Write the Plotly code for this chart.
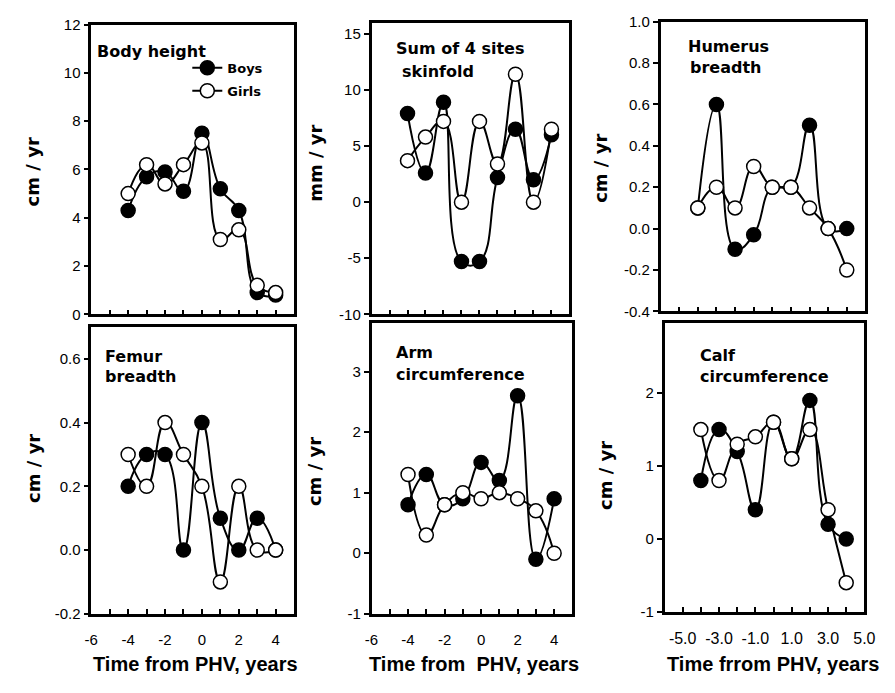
import plotly.graph_objects as go

# ---------------- data ----------------
years = [-4, -3, -2, -1, 0, 1, 2, 3, 4]

height_boys = [4.3, 5.7, 5.9, 5.1, 7.5, 5.2, 4.3, 0.9, 0.8]
height_girls = [5.0, 6.2, 5.4, 6.2, 7.1, 3.1, 3.5, 1.2, 0.9]

skinfold_boys = [7.9, 2.6, 8.9, -5.3, -5.3, 2.2, 6.5, 2.0, 6.0]
skinfold_girls = [3.7, 5.8, 7.2, 0.0, 7.2, 3.4, 11.4, 0.0, 6.5]

humerus_boys = [0.1, 0.6, -0.1, -0.03, 0.2, 0.2, 0.5, 0.0, 0.0]
humerus_girls = [0.1, 0.2, 0.1, 0.3, 0.2, 0.2, 0.1, 0.0, -0.2]

femur_boys = [0.2, 0.3, 0.3, 0.0, 0.4, 0.1, 0.0, 0.1, 0.0]
femur_girls = [0.3, 0.2, 0.4, 0.3, 0.2, -0.1, 0.2, 0.0, 0.0]

arm_boys = [0.8, 1.3, 0.8, 0.9, 1.5, 1.2, 2.6, -0.1, 0.9]
arm_girls = [1.3, 0.3, 0.8, 1.0, 0.9, 1.0, 0.9, 0.7, 0.0]

calf_boys = [0.8, 1.5, 1.2, 0.4, 1.6, 1.1, 1.9, 0.2, 0.0]
calf_girls = [1.5, 0.8, 1.3, 1.4, 1.6, 1.1, 1.5, 0.4, -0.6]

x_tick_vals = [-6, -5, -4, -3, -2, -1, 0, 1, 2, 3, 4, 5]
x_tick_text_int = ["-6", "", "-4", "", "-2", "", "0", "", "2", "", "4", ""]
x_tick_text_dec = ["", "-5.0", "", "-3.0", "", "-1.0", "", "1.0", "", "3.0", "", "5.0"]

y_ticks_height = [0, 2, 4, 6, 8, 10, 12]
y_ticks_skinfold = [-10, -5, 0, 5, 10, 15]
y_ticks_humerus = [-0.4, -0.2, 0.0, 0.2, 0.4, 0.6, 0.8, 1.0]
y_ticks_femur = [-0.2, 0.0, 0.2, 0.4, 0.6]
y_ticks_arm = [-1, 0, 1, 2, 3]
y_ticks_calf = [-1, 0, 1, 2]

panel_titles = [["Body height"], ["Sum of 4 sites", "skinfold"], ["Humerus", "breadth"],
                ["Femur", "breadth"], ["Arm", "circumference"], ["Calf", "circumference"]]
y_titles = ["cm / yr", "mm / yr", "cm / yr", "cm / yr", "cm / yr", "cm / yr"]
x_titles = ["Time from PHV, years", "Time from\u00a0 PHV, years", "Time frrom PHV, years"]

# ---------------- layout geometry (pixels) ----------------
W, H = 895, 693
frames = [  # left, right, top, bottom
    (86, 293, 16, 313),
    (372, 574, 14, 313),
    (667, 876, 13, 310),
    (86, 293, 326, 620),
    (372, 577, 322, 620),
    (671, 875, 322, 618),
]
panels = [
    dict(b=height_boys, g=height_girls, yr=[0, 12], yt=y_ticks_height, dec=False),
    dict(b=skinfold_boys, g=skinfold_girls, yr=[-10, 16], yt=y_ticks_skinfold, dec=False),
    dict(b=humerus_boys, g=humerus_girls, yr=[-0.4, 1.0], yt=y_ticks_humerus, dec=True),
    dict(b=femur_boys, g=femur_girls, yr=[-0.2, 0.7], yt=y_ticks_femur, dec=True),
    dict(b=arm_boys, g=arm_girls, yr=[-1, 3.8], yt=y_ticks_arm, dec=False),
    dict(b=calf_boys, g=calf_girls, yr=[-1, 2.96], yt=y_ticks_calf, dec=False),
]
title_pos = [  # (x left, y centre) of each title line
    [(90, 44)],
    [(395, 41), (401, 64)],
    [(693, 38), (695, 60)],
    [(98, 356), (98, 377)],
    [(395, 352), (395, 375)],
    [(705, 355), (705, 377)],
]
ytitle_pos = [(26, 167), (314, 158), (605, 163), (27, 471), (314, 474), (611, 478)]
xtitle_pos = [(192, 671), (477, 671), (782, 671)]

TICK_FONT = dict(family="Liberation Sans, Arial", size=15, color="black")
BOLD_FAMILY = "DejaVu Sans"
XTITLE_FONT = dict(family="Liberation Sans, Arial", size=20, color="black")

fig = go.Figure()
layout = dict(
    width=W, height=H, margin=dict(l=0, r=0, t=0, b=0),
    paper_bgcolor="white", plot_bgcolor="white",
    showlegend=True,
    legend=dict(x=184 / W, y=1 - 45 / H, xanchor="left", yanchor="top",
                bgcolor="rgba(0,0,0,0)", font=dict(family=BOLD_FAMILY, size=13, color="black"),
                tracegroupgap=3, itemwidth=30),
)
annotations = []

for i, (p, fr) in enumerate(zip(panels, frames)):
    n = i + 1
    xa = "x" if n == 1 else f"x{n}"
    ya = "y" if n == 1 else f"y{n}"
    L, R, T, B = fr
    fig.add_trace(go.Scatter(
        x=years, y=p["b"], xaxis=xa, yaxis=ya, mode="lines+markers",
        name="<b>Boys</b>", showlegend=(n == 1), legendgroup="b",
        line=dict(color="black", width=2, shape="spline", smoothing=1.3),
        marker=dict(size=14, color="black", line=dict(color="black", width=1.5)),
    ))
    fig.add_trace(go.Scatter(
        x=years, y=p["g"], xaxis=xa, yaxis=ya, mode="lines+markers",
        name="<b>Girls</b>", showlegend=(n == 1), legendgroup="g",
        line=dict(color="black", width=2, shape="spline", smoothing=1.3),
        marker=dict(size=14, color="white", line=dict(color="black", width=1.5)),
    ))
    bottom_row = n >= 4
    if n == 6:
        ttext = x_tick_text_dec
        tfont = dict(family="Liberation Sans, Arial", size=16, color="black")
    else:
        ttext = x_tick_text_int
        tfont = TICK_FONT
    layout[f"xaxis{'' if n == 1 else n}"] = dict(
        domain=[L / W, R / W], anchor=ya, range=[-6, 5],
        tickmode="array", tickvals=x_tick_vals, ticktext=ttext,
        showticklabels=bottom_row, ticks="inside", ticklen=5, tickwidth=1.5,
        tickcolor="black", tickfont=tfont, ticklabelstandoff=10 if bottom_row else 0,
        showline=True, linecolor="black", linewidth=2.5, mirror=True,
        showgrid=False, zeroline=False,
    )
    ytext = [f"{v:.1f}" if p["dec"] else str(int(round(v))) for v in p["yt"]]
    layout[f"yaxis{'' if n == 1 else n}"] = dict(
        domain=[1 - B / H, 1 - T / H], anchor=xa, range=p["yr"],
        tickmode="array", tickvals=p["yt"], ticktext=ytext,
        ticks="outside", ticklen=5, tickwidth=1.5, tickcolor="black", tickfont=TICK_FONT,
        showline=True, linecolor="black", linewidth=2.5, mirror=True,
        showgrid=False, zeroline=False,
    )
    # right-hand inner ticks
    layout[f"yaxis{n + 6}"] = dict(
        overlaying=ya, side="right", anchor=xa, range=p["yr"],
        tickmode="array", tickvals=p["yt"], showticklabels=False,
        ticks="inside", ticklen=5, tickwidth=1.5, tickcolor="black",
        showline=False, showgrid=False, zeroline=False,
    )
    for line, (tx, ty) in zip(panel_titles[i], title_pos[i]):
        annotations.append(dict(
            text=f"<b>{line}</b>", x=tx / W, y=1 - ty / H, xref="paper", yref="paper",
            xanchor="left", yanchor="middle", showarrow=False,
            font=dict(family=BOLD_FAMILY, size=16, color="black"),
        ))
    yx, yy = ytitle_pos[i]
    annotations.append(dict(
        text=f"<b>{y_titles[i]}</b>", x=yx / W, y=1 - yy / H, xref="paper", yref="paper",
        xanchor="center", yanchor="middle", showarrow=False, textangle=-90,
        font=dict(family=BOLD_FAMILY, size=18, color="black"),
    ))

for t, (tx, ty) in zip(x_titles, xtitle_pos):
    annotations.append(dict(
        text=f"<b>{t}</b>", x=tx / W, y=1 - ty / H, xref="paper", yref="paper",
        xanchor="center", yanchor="middle", showarrow=False, font=XTITLE_FONT,
    ))

layout["annotations"] = annotations
fig.update_layout(**layout)
fig.write_html("out.html", config={"displayModeBar": False},
               post_script="document.body.style.margin='0px';")
